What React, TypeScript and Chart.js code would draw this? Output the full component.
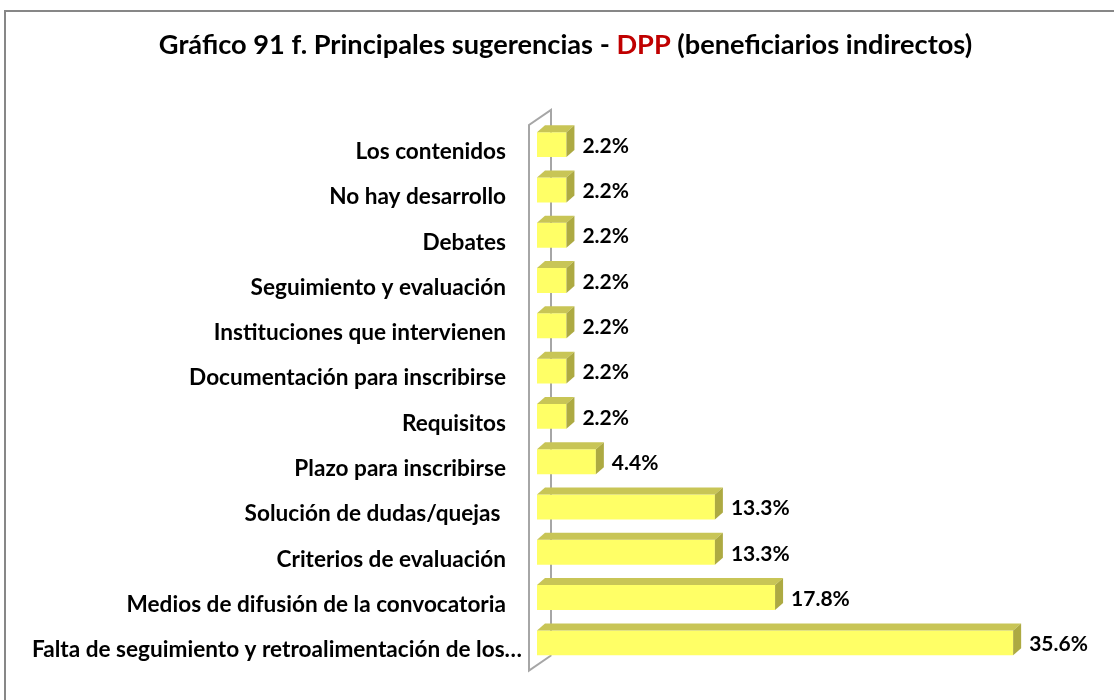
import React, { useEffect, useRef } from "react";
import { Chart, registerables } from "chart.js";

Chart.register(...registerables);

const categories = [
  "Los contenidos",
  "No hay desarrollo",
  "Debates",
  "Seguimiento y evaluación",
  "Instituciones que intervienen",
  "Documentación para inscribirse",
  "Requisitos",
  "Plazo para inscribirse",
  "Solución de dudas/quejas ",
  "Criterios de evaluación",
  "Medios de difusión de la convocatoria",
  "Falta de seguimiento y retroalimentación de los…",
];

const values = [2.2, 2.2, 2.2, 2.2, 2.2, 2.2, 2.2, 4.4, 13.3, 13.3, 17.8, 35.6];

const titleParts = [
  { text: "Gráfico 91 f. Principales sugerencias - ", color: "#000000" },
  { text: "DPP", color: "#C00000" },
  { text: " (beneficiarios indirectos)", color: "#000000" },
];

const FONT = "Lato, 'Open Sans', sans-serif";
const LABEL_SIZE = 22.6;
const VALUE_SIZE = 21;
const TITLE_SIZE = 27.2;

const FRONT = "#FFFF66";
const TOP = "#C8C556";
const SIDE = "#ADAA42";
const WALL = "#A6A6A6";
const DX = 8;
const DY = 7;

const framePlugin = {
  id: "frame",
  beforeDraw(chart: any) {
    const ctx = chart.ctx;
    ctx.save();
    ctx.fillStyle = "#ffffff";
    ctx.fillRect(0, 0, chart.width, chart.height);
    ctx.strokeStyle = "#878787";
    ctx.lineWidth = 2;
    ctx.strokeRect(5, 11, chart.width + 50, chart.height + 50);
    // title
    ctx.font = `bold ${TITLE_SIZE}px ${FONT}`;
    ctx.textBaseline = "alphabetic";
    ctx.textAlign = "left";
    const total = titleParts.reduce((s, p) => s + ctx.measureText(p.text).width, 0);
    let x = 565.5 - total / 2;
    for (const p of titleParts) {
      ctx.fillStyle = p.color;
      ctx.fillText(p.text, x, 54);
      x += ctx.measureText(p.text).width;
    }
    ctx.restore();
  },
  beforeDatasetsDraw(chart: any) {
    const { ctx, chartArea } = chart;
    const l = chartArea.left;
    const t = chartArea.top;
    const b = chartArea.bottom;
    ctx.save();
    ctx.strokeStyle = WALL;
    ctx.lineWidth = 2;
    ctx.beginPath();
    ctx.moveTo(l + 14, b - 10);
    ctx.lineTo(l + 14, t - 12);
    ctx.lineTo(l - 8, t + 3);
    ctx.lineTo(l - 8, b + 5);
    ctx.lineTo(l + 14, b - 10);
    ctx.stroke();
    // category labels, placed at the y scale's tick positions
    const yScale = chart.scales.y;
    ctx.fillStyle = "#000000";
    ctx.font = `bold ${LABEL_SIZE}px ${FONT}`;
    ctx.textAlign = "right";
    ctx.textBaseline = "middle";
    categories.forEach((label, i) => {
      const py = yScale.getPixelForTick(i) + 7;
      const px = l - 31 + (label.endsWith("…") ? 16 : 0);
      ctx.fillText(label, px, py);
    });
    ctx.restore();
  },
  afterDatasetsDraw(chart: any) {
    const ctx = chart.ctx;
    const meta = chart.getDatasetMeta(0);
    ctx.save();
    meta.data.forEach((bar: any, i: number) => {
      const { x, y, base, height } = bar.getProps(["x", "y", "base", "height"], true);
      const top = y - height / 2;
      const bottom = y + height / 2;
      ctx.fillStyle = TOP;
      ctx.beginPath();
      ctx.moveTo(base, top);
      ctx.lineTo(base + DX, top - DY);
      ctx.lineTo(x + DX, top - DY);
      ctx.lineTo(x, top);
      ctx.closePath();
      ctx.fill();
      ctx.fillStyle = SIDE;
      ctx.beginPath();
      ctx.moveTo(x, top);
      ctx.lineTo(x + DX, top - DY);
      ctx.lineTo(x + DX, bottom - DY);
      ctx.lineTo(x, bottom);
      ctx.closePath();
      ctx.fill();
      ctx.fillStyle = "#000000";
      ctx.font = `bold ${VALUE_SIZE}px ${FONT}`;
      ctx.textAlign = "left";
      ctx.textBaseline = "middle";
      ctx.fillText(values[i].toFixed(1) + "%", x + 16, y + 1.5);
    });
    ctx.restore();
  },
};

export default function App() {
  const ref = useRef<HTMLCanvasElement | null>(null);
  useEffect(() => {
    if (!ref.current) return;
    const chart = new Chart(ref.current, {
      type: "bar",
      data: {
        labels: categories,
        datasets: [
          {
            data: values,
            backgroundColor: FRONT,
            borderWidth: 0,
            barPercentage: 0.55,
            categoryPercentage: 1,
          },
        ],
      },
      options: {
        indexAxis: "y",
        animation: false,
        responsive: false,
        devicePixelRatio: 1,
        layout: { padding: { left: 0, right: 42, top: 122, bottom: 34.5 } },
        plugins: {
          legend: { display: false },
          tooltip: { enabled: false },
          title: { display: false },
        },
        scales: {
          x: { display: false, min: 0, max: 40 },
          y: {
            grid: { display: false },
            border: { display: false },
            ticks: { display: false, autoSkip: false },
            afterFit(scale: any) {
              scale.width = 537;
            },
          },
        },
      },
      plugins: [framePlugin],
    });
    return () => chart.destroy();
  }, []);
  return (
    <div style={{ position: "absolute", left: 0, top: 0, width: 1114, height: 700 }}>
      <canvas ref={ref} width={1114} height={700} />
    </div>
  );
}
